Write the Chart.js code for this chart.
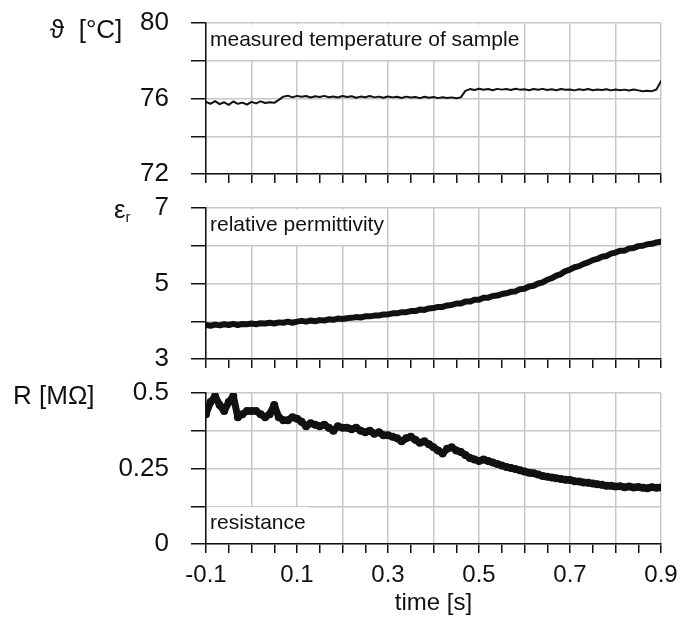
<!DOCTYPE html>
<html>
<head>
<meta charset="utf-8">
<script src="https://cdn.jsdelivr.net/npm/chart.js@4.4.0/dist/chart.umd.min.js"></script>
<style>
  html, body { margin: 0; padding: 0; background: #fff; overflow: hidden; }
  #wrap { position: relative; width: 680px; height: 618px; font-family: 'Liberation Sans', Arial, sans-serif; color: #111; }
  canvas { position: absolute; left: 0; }
  .ylab { position: absolute; font-size: 26px; line-height: 26px; white-space: nowrap; }
  .ylab sub { font-size: 15px; vertical-align: -4px; }
</style>
</head>
<body>
<div id="wrap">
  <canvas id="c1" width="680" height="200" style="top:0px"></canvas>
  <canvas id="c2" width="680" height="200" style="top:185px"></canvas>
  <canvas id="c3" width="680" height="248" style="top:370px"></canvas>
  <div class="ylab" style="left:50px;top:16px">ϑ&nbsp; [°C]</div>
  <div class="ylab" style="left:114px;top:196px">ε<sub>r</sub></div>
  <div class="ylab" style="left:13px;top:382px">R [MΩ]</div>
</div>
<script>
// time axis, seconds
const time = [
  -0.1, -0.09, -0.08, -0.07, -0.06, -0.05, -0.04, -0.03, -0.02, -0.01, 0,
  0.01, 0.02, 0.03, 0.04, 0.05, 0.06, 0.07, 0.08, 0.09, 0.1,
  0.11, 0.12, 0.13, 0.14, 0.15, 0.16, 0.17, 0.18, 0.19, 0.2,
  0.21, 0.22, 0.23, 0.24, 0.25, 0.26, 0.27, 0.28, 0.29, 0.3,
  0.31, 0.32, 0.33, 0.34, 0.35, 0.36, 0.37, 0.38, 0.39, 0.4,
  0.41, 0.42, 0.43, 0.44, 0.45, 0.46, 0.47, 0.48, 0.49, 0.5,
  0.51, 0.52, 0.53, 0.54, 0.55, 0.56, 0.57, 0.58, 0.59, 0.6,
  0.61, 0.62, 0.63, 0.64, 0.65, 0.66, 0.67, 0.68, 0.69, 0.7,
  0.71, 0.72, 0.73, 0.74, 0.75, 0.76, 0.77, 0.78, 0.79, 0.8,
  0.81, 0.82, 0.83, 0.84, 0.85, 0.86, 0.87, 0.88, 0.89, 0.9
];

// measured temperature of sample, °C
const temperature = [
  75.82, 75.72, 75.86, 75.70, 75.80, 75.66, 75.84, 75.72, 75.78, 75.68, 75.82,
  75.74, 75.85, 75.76, 75.80, 75.77, 75.93, 76.10, 76.15, 76.06, 76.14,
  76.09, 76.13, 76.05, 76.12, 76.08, 76.14, 76.07, 76.11, 76.05, 76.13,
  76.08, 76.12, 76.04, 76.10, 76.07, 76.13, 76.06, 76.10, 76.04, 76.11,
  76.06, 76.09, 76.03, 76.10, 76.05, 76.08, 76.02, 76.09, 76.04, 76.08,
  76.02, 76.07, 76.03, 76.06, 76.01, 76.06, 76.40, 76.50, 76.45, 76.52,
  76.46, 76.50, 76.44, 76.51, 76.47, 76.50, 76.45, 76.52, 76.47, 76.49,
  76.44, 76.50, 76.46, 76.51, 76.45, 76.49, 76.44, 76.50, 76.46, 76.48,
  76.43, 76.49, 76.45, 76.50, 76.44, 76.48, 76.45, 76.49, 76.43, 76.48,
  76.44, 76.47, 76.42, 76.48, 76.43, 76.38, 76.41, 76.39, 76.48, 76.92
];

// relative permittivity
const permittivity = [
  3.90, 3.88, 3.91, 3.89, 3.92, 3.90, 3.93, 3.90, 3.93, 3.92, 3.94,
  3.92, 3.95, 3.94, 3.96, 3.94, 3.97, 3.96, 3.99, 3.96, 3.99,
  4.01, 3.99, 4.02, 4.00, 4.03, 4.02, 4.05, 4.04, 4.07, 4.06,
  4.08, 4.09, 4.11, 4.10, 4.13, 4.13, 4.15, 4.15, 4.18, 4.18,
  4.21, 4.21, 4.24, 4.24, 4.27, 4.27, 4.31, 4.30, 4.34, 4.35,
  4.38, 4.38, 4.42, 4.43, 4.47, 4.47, 4.52, 4.52, 4.57, 4.57,
  4.62, 4.62, 4.67, 4.68, 4.72, 4.74, 4.78, 4.79, 4.85, 4.86,
  4.92, 4.94, 5.00, 5.03, 5.10, 5.14, 5.21, 5.25, 5.33, 5.37,
  5.43, 5.46, 5.52, 5.56, 5.62, 5.65, 5.71, 5.73, 5.79, 5.82,
  5.87, 5.87, 5.93, 5.94, 5.99, 6.00, 6.04, 6.05, 6.09, 6.11
];

// resistance, MOhm
const resistance = [
  0.43, 0.47, 0.49, 0.46, 0.44, 0.47, 0.49, 0.42, 0.43, 0.44, 0.44,
  0.44, 0.43, 0.42, 0.43, 0.46, 0.42, 0.41, 0.41, 0.42, 0.415,
  0.405, 0.39, 0.40, 0.395, 0.39, 0.395, 0.385, 0.375, 0.39, 0.385,
  0.385, 0.38, 0.385, 0.375, 0.37, 0.375, 0.365, 0.37, 0.36, 0.36,
  0.355, 0.35, 0.34, 0.35, 0.355, 0.345, 0.335, 0.34, 0.33, 0.32,
  0.31, 0.30, 0.315, 0.32, 0.31, 0.305, 0.295, 0.285, 0.28, 0.275,
  0.28, 0.275, 0.27, 0.265, 0.26, 0.255, 0.252, 0.248, 0.244, 0.24,
  0.236, 0.234, 0.23, 0.225, 0.223, 0.22, 0.218, 0.215, 0.213, 0.212,
  0.208, 0.207, 0.204, 0.203, 0.20, 0.198, 0.196, 0.193, 0.193, 0.19,
  0.191, 0.188, 0.19, 0.187, 0.189, 0.186, 0.185, 0.188, 0.186, 0.187
];

const xTickValues = [-0.1, -0.05, 0, 0.05, 0.1, 0.15, 0.2, 0.25, 0.3, 0.35, 0.4,
                     0.45, 0.5, 0.55, 0.6, 0.65, 0.7, 0.75, 0.8, 0.85, 0.9];
const xLabelValues = [-0.1, 0.1, 0.3, 0.5, 0.7, 0.9];
const tempTicks = [72, 74, 76, 78, 80];
const permTicks = [3, 4, 5, 6, 7];
const resTicks = [0, 0.125, 0.25, 0.375, 0.5];

const gridGray = '#c8c8c8';
const ink = '#111';

Chart.defaults.font.family = "'Liberation Sans', Arial, sans-serif";
Chart.defaults.color = ink;

// white-boxed caption inside the plot area
const notePlugin = {
  id: 'panelNote',
  beforeDatasetsDraw(chart, args, o) {
    if (!o.text) return;
    const a = chart.chartArea, ctx = chart.ctx;
    ctx.save();
    ctx.font = "21px 'Liberation Sans', Arial, sans-serif";
    const w = ctx.measureText(o.text).width;
    const top = o.atBottom ? a.bottom - 37 : a.top + 1.5;
    ctx.fillStyle = '#fff';
    ctx.fillRect(a.left + 1.5, top, w + 5, 35.5);
    ctx.fillStyle = ink;
    ctx.textBaseline = 'middle';
    ctx.fillText(o.text, a.left + 4, top + 16);
    ctx.restore();
  }
};

function xScale(showLabels, height) {
  return {
    type: 'linear', min: -0.1, max: 0.9,
    afterBuildTicks: s => { s.ticks = xTickValues.map(v => ({value: v})); },
    afterFit: s => { s.height = height; s.paddingLeft = 0; s.paddingRight = 0; },
    grid: {
      color: c => c.index % 2 === 0 ? gridGray : 'rgba(0,0,0,0)',
      lineWidth: 1.5, tickColor: ink, tickWidth: 1.5, tickLength: 9
    },
    border: { color: ink, width: 1.5 },
    ticks: {
      display: showLabels, autoSkip: false, maxRotation: 0, padding: 8,
      font: { size: 24 },
      callback: v => xLabelValues.includes(v) ? v.toFixed(1) : ''
    },
    title: { display: showLabels, text: 'time [s]', font: { size: 24 }, padding: { top: 0, bottom: 0 } }
  };
}

function yScale(ticks) {
  return {
    min: ticks[0], max: ticks[ticks.length - 1],
    afterBuildTicks: s => { s.ticks = ticks.map(v => ({value: v})); },
    afterFit: s => { s.width = 206; s.paddingTop = 0; s.paddingBottom = 0; },
    grid: { color: gridGray, lineWidth: 1.5, tickColor: ink, tickWidth: 1.5, tickLength: 15 },
    border: { color: ink, width: 1.5 },
    ticks: { padding: 22, font: { size: 26 }, callback: (v, i) => i % 2 === 0 ? String(v) : '' }
  };
}

function panel(id, values, ticks, note, atBottom, showX, xHeight, lineWidth, pointRadius) {
  return new Chart(document.getElementById(id), {
    type: 'line',
    data: {
      datasets: [{
        data: time.map((t, i) => ({x: t, y: values[i]})),
        borderColor: ink, backgroundColor: ink,
        borderWidth: lineWidth, pointRadius: pointRadius, pointBorderWidth: 0,
        tension: 0, borderJoinStyle: 'round', borderCapStyle: 'round'
      }]
    },
    options: {
      responsive: false, animation: false, devicePixelRatio: 1,
      layout: { padding: { top: 23, right: 19, left: 0, bottom: 0 } },
      scales: { x: xScale(showX, xHeight), y: yScale(ticks) },
      plugins: {
        legend: { display: false }, tooltip: { enabled: false },
        panelNote: { text: note, atBottom: atBottom }
      }
    },
    plugins: [notePlugin]
  });
}

panel('c1', temperature, tempTicks, 'measured temperature of sample', false, false, 26, 2, 0);
panel('c2', permittivity, permTicks, 'relative permittivity', false, false, 26, 6, 0);
panel('c3', resistance, resTicks, 'resistance', true, true, 74, 7, 4);
</script>
</body>
</html>
